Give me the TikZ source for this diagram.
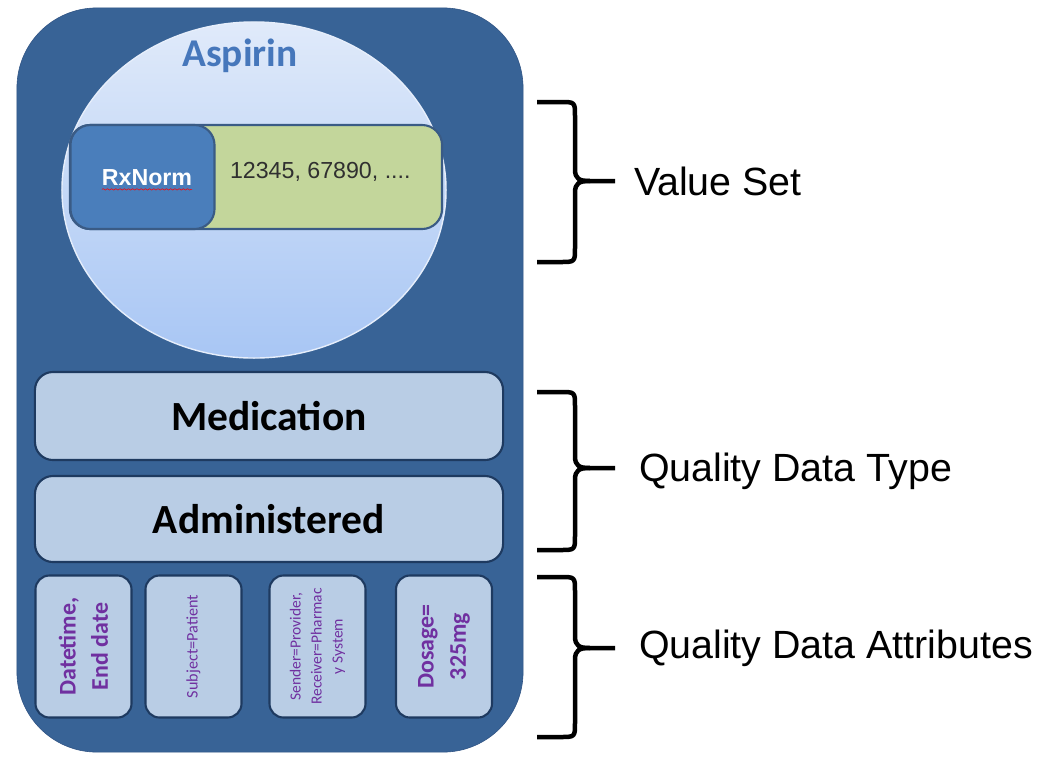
\documentclass[tikz,border=0pt]{standalone}
\usepackage{fontspec}
\setmainfont{Carlito}
\newfontfamily\arialfont{Liberation Sans}
\usetikzlibrary{shapes.geometric,decorations.pathmorphing}

\definecolor{outerblue}{HTML}{386396}
\definecolor{outerline}{HTML}{2E5283}
\definecolor{ovaltop}{HTML}{E0EAFA}
\definecolor{ovalbottom}{HTML}{A8C6F4}
\definecolor{rxblue}{HTML}{4A7EBB}
\definecolor{codegreen}{HTML}{C3D69B}
\definecolor{codetext}{HTML}{303030}
\definecolor{barline}{HTML}{3A5B85}
\definecolor{boxfill}{HTML}{B9CDE5}
\definecolor{boxline}{HTML}{1E3A60}
\definecolor{attrpurple}{HTML}{7030A0}
\definecolor{aspirinblue}{HTML}{4677BB}

% right hand brace: top, tip, bottom (pixel rows)
\newcommand\sidebrace[3]{%
  \draw[bracket] (537,#1) -- (560,#1) .. controls (575,#1) .. (575,{#1+14}) -- (575,{#2-12})
    .. controls (575,{#2-2}) and (579,#2) .. (590,#2) -- (615,#2);
  \draw[bracket] (590,#2) .. controls (579,#2) and (575,{#2+2}) .. (575,{#2+12}) -- (575,{#3-14})
    .. controls (575,#3) .. (560,#3) -- (537,#3);
}

\begin{document}
\begin{tikzpicture}[x=0.025cm,y=-0.025cm]
    \tikzstyle{every node}=[inner sep=0pt, outer sep=0pt]
    \tikzstyle{bracket}=[line width=3.2pt, line join=round]
    \tikzstyle{typebox}=[draw=boxline, line width=1.5pt, fill=boxfill, rounded corners=0.45cm, minimum width=11.7cm, font=\fontsize{29.5}{34}\selectfont\bfseries]
    \tikzstyle{attrbox}=[draw=boxline, line width=1.5pt, fill=boxfill, rounded corners=0.35cm, rotate=90, minimum width=3.55cm, minimum height=2.4cm, text=attrpurple, align=center]
    \tikzstyle{sidelabel}=[anchor=base west, font=\arialfont\fontsize{28}{33}\selectfont]

    \useasboundingbox (0,0) rectangle (1048,758);

    % container and value set oval
    \node[draw=outerline, fill=outerblue, rounded corners=2cm, minimum width=12.65cm, minimum height=18.6cm] (outer) at (270,380) {};
    \node[ellipse, draw=ovaltop!80!white, line width=1pt, top color=ovaltop, bottom color=ovalbottom, minimum width=9.6cm, minimum height=8.4cm] (oval) at (254,190) {};
    \node[text=aspirinblue, font=\fontsize{28}{32}\selectfont\bfseries] (drug) at (240,56) {Aspirin};

    % code system and codes
    \node[draw=barline, line width=1.5pt, fill=codegreen, rounded corners=0.5cm, minimum width=9.3cm, minimum height=2.6cm] (codes) at (256,177) {};
    \node[draw=barline, line width=1.5pt, fill=rxblue, rounded corners=0.5cm, minimum width=3.6cm, minimum height=2.6cm] (rxbox) at (142.5,177) {};
    \node[text=white, font=\arialfont\bfseries\fontsize{16.5}{20}\selectfont] (rxname) at (147,178) {RxNorm};
    \draw[red, decorate, decoration={snake, amplitude=0.5pt, segment length=3pt}] ([yshift=-2.5pt]rxname.base west) -- ([yshift=-2.5pt]rxname.base east);
    \node[anchor=west, text=codetext, font=\arialfont\fontsize{16.5}{20}\selectfont] (codelist) at (230,172) {12345, 67890, ....};

    % data type
    \node[typebox, minimum height=2.2cm] (medication) at (269,416) {Medication};
    \node[typebox, minimum height=2.15cm] (administered) at (269,519) {Administered};

    % attributes
    \node[attrbox, font=\fontsize{17}{23}\selectfont\bfseries] (datetime) at (83.5,646.5) {Datetime,\\End date};
    \node[attrbox, font=\fontsize{11.5}{14}\selectfont] (subject) at (193.5,646.5) {Subject=Patient};
    \node[attrbox, font=\fontsize{11}{15}\selectfont] (sender) at (317.5,646.5) {Sender=Provider,\\Receiver=Pharmac\\y System};
    \node[attrbox, font=\fontsize{17}{23}\selectfont\bfseries] (dosage) at (444,646.5) {Dosage=\\325mg};

    % braces and labels
    \sidebrace{102}{181}{262}
    \sidebrace{392}{468}{550}
    \sidebrace{577}{648}{737}
    \node[sidelabel] (vs) at (634,195) {Value Set};
    \node[sidelabel] (qdt) at (639,481) {Quality Data Type};
    \node[sidelabel] (qda) at (639,658) {Quality Data Attributes};

\end{tikzpicture}
\end{document}
